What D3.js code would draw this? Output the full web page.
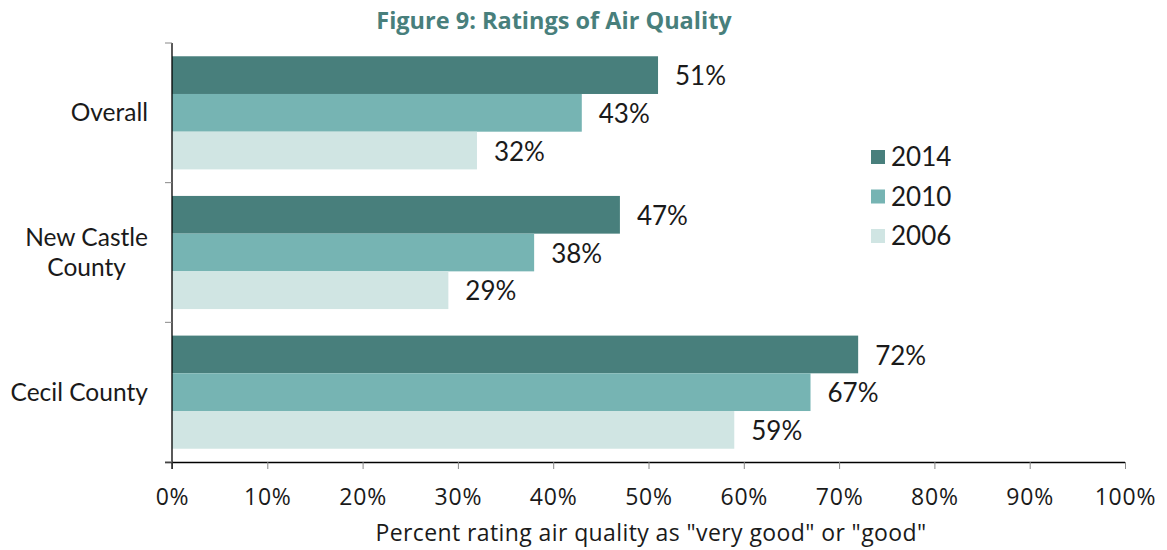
<!DOCTYPE html>
<html><head><meta charset="utf-8">
<script src="https://cdn.jsdelivr.net/npm/d3@7"></script>
<style>body{margin:0;background:#fff}svg{display:block}</style>
</head><body>
<svg id="c" width="1167" height="550"></svg>
<script>
const categories = ["Overall", "New Castle County", "Cecil County"];
const categoryLines = [["Overall"], ["New Castle", "County"], ["Cecil County"]];
const seriesNames = ["2014", "2010", "2006"];
const values2014 = [51, 47, 72];
const values2010 = [43, 38, 67];
const values2006 = [32, 29, 59];
const xTicks = [0, 10, 20, 30, 40, 50, 60, 70, 80, 90, 100];
const colors = ["#487f7c", "#76b4b3", "#d0e5e3"];
const title = "Figure 9: Ratings of Air Quality";
const xTitle = 'Percent rating air quality as "very good" or "good"';

const series = [values2014, values2010, values2006];
const font = "Lato, 'Open Sans', sans-serif";
const font2 = "'Open Sans', Lato, sans-serif";
const svg = d3.select("#c");
const L = 172, R = 1125, T = 43, B = 462;

const x = d3.scaleLinear().domain([0, 100]).range([L, R]);
const y0 = d3.scaleBand().domain(categories).range([T, B]).paddingInner(0.19).paddingOuter(0.095);
const y1 = d3.scaleBand().domain(seriesNames).range([0, y0.bandwidth()]);

svg.append("text").attr("x", 554).attr("y", 29).attr("text-anchor", "middle")
  .attr("font-family", font2).attr("font-weight", "bold")
  .attr("font-size", 23.5).attr("fill", "#487f7c").text(title);

const g = svg.append("g");
categories.forEach((c, i) => {
  seriesNames.forEach((s, j) => {
    const v = series[j][i];
    const yy = y0(c) + y1(s);
    g.append("rect").attr("x", x(0)).attr("y", yy).attr("width", x(v) - x(0)).attr("height", y1.bandwidth())
      .attr("fill", colors[j]);
    g.append("text").attr("x", x(v) + 17).attr("y", yy + y1.bandwidth() / 2 + 1).attr("dy", "0.35em")
      .attr("font-family", font).attr("font-size", 26).attr("fill", "#1a1a1a").text(v + "%");
  });
});

// x axis
const xa = svg.append("g").attr("transform", `translate(0,${B})`)
  .call(d3.axisBottom(x).tickValues(xTicks).tickSize(7).tickPadding(20).tickFormat(d => d + "%"));
xa.select(".domain").attr("stroke", "#000").attr("stroke-width", 1.3).attr("d", `M${L - 7},0.5H${R}`);
xa.selectAll(".tick line").attr("stroke", "#888");
xa.selectAll(".tick text").attr("font-family", font2).attr("font-size", 23).attr("letter-spacing", 0.8).attr("fill", "#1a1a1a");

// y axis
const yEdges = [T, T + (B - T) / 3, T + 2 * (B - T) / 3, B];
const ya = svg.append("g");
ya.append("line").attr("x1", L).attr("x2", L).attr("y1", T).attr("y2", B + 7).attr("stroke", "#000").attr("stroke-width", 1.3);
yEdges.forEach(e => ya.append("line").attr("x1", L - 7).attr("x2", L).attr("y1", e).attr("y2", e).attr("stroke", "#888"));

categories.forEach((c, i) => {
  const lines = categoryLines[i];
  const cy = y0(c) + y0.bandwidth() / 2;
  const t = svg.append("text").attr("font-family", font).attr("font-size", 24.5).attr("fill", "#1a1a1a");
  lines.forEach((ln, k) => {
    t.append("tspan").attr("x", 0).attr("y", cy + (k - (lines.length - 1) / 2) * 30).attr("dy", "0.35em").text(ln);
  });
  const w = t.node().getBBox().width;
  t.attr("text-anchor", "middle");
  t.selectAll("tspan").attr("x", 148 - w / 2);
});

svg.append("text").attr("x", 651).attr("y", 533).attr("dy", "0.35em").attr("text-anchor", "middle")
  .attr("font-family", font2).attr("font-size", 23).attr("letter-spacing", 0.4).attr("fill", "#1a1a1a").text(xTitle);

// legend
seriesNames.forEach((s, j) => {
  const cy = 157 + j * 39.5;
  svg.append("rect").attr("x", 871).attr("y", cy - 7).attr("width", 14).attr("height", 14).attr("fill", colors[j]);
  svg.append("text").attr("x", 891).attr("y", cy).attr("dy", "0.35em")
    .attr("font-family", font).attr("font-size", 26).attr("fill", "#1a1a1a").text(s);
});
</script>
</body></html>
